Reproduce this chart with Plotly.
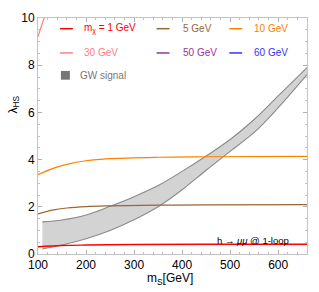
import plotly.graph_objects as go

# ---- data ----
ms_1 = [100, 150, 200, 300, 450, 660]
lam_1 = [0.31, 0.36, 0.38, 0.40, 0.41, 0.41]

ms_5 = [100, 130, 160, 200, 250, 350, 450, 660]
lam_5 = [1.70, 1.86, 1.95, 2.01, 2.04, 2.07, 2.08, 2.09]

ms_10 = [100, 130, 160, 200, 250, 350, 450, 660]
lam_10 = [3.36, 3.62, 3.80, 3.95, 4.04, 4.10, 4.12, 4.14]

ms_30 = [100, 106, 113, 125, 160]
lam_30 = [9.2, 9.6, 10.0, 10.6, 11.4]

gw_x = [109, 150, 200, 250, 300, 350, 400, 450, 500, 550, 600, 660]
gw_upper = [1.36, 1.44, 1.65, 2.02, 2.43, 2.90, 3.50, 4.15, 4.85, 5.70, 6.70, 7.90]
gw_lower = [0.21, 0.38, 0.65, 1.00, 1.45, 2.00, 2.72, 3.55, 4.35, 5.15, 6.20, 7.60]

legend_labels = ["m<sub>χ</sub> = 1 GeV", "5 GeV", "10 GeV", "30 GeV", "50 GeV", "60 GeV"]
legend_colors = ["#ff0000", "#996633", "#ff8000", "#ff8080", "#993399", "#3333ff"]

x_ticks = [100, 200, 300, 400, 500, 600]
y_ticks = [0, 2, 4, 6, 8, 10]

FONT = "Liberation Sans, Arial, sans-serif"

fig = go.Figure()

# GW band fill
fig.add_trace(go.Scatter(
    x=gw_x + gw_x[::-1], y=gw_upper + gw_lower[::-1],
    fill="toself", fillcolor="#d3d3d3", line=dict(width=0),
    mode="lines", hoverinfo="skip", showlegend=False))
for yy in (gw_upper, gw_lower):
    fig.add_trace(go.Scatter(x=gw_x, y=yy, mode="lines",
                             line=dict(color="#8a8a8a", width=1.1, shape="spline"),
                             showlegend=False))

widths = [1.4, 1.2, 1.2, 1.2]
for (xs, ys, c), w in zip([(ms_1, lam_1, legend_colors[0]), (ms_5, lam_5, legend_colors[1]),
                           (ms_10, lam_10, legend_colors[2]), (ms_30, lam_30, legend_colors[3])],
                          widths):
    fig.add_trace(go.Scatter(x=xs, y=ys, mode="lines",
                             line=dict(color=c, width=w, shape="spline"),
                             showlegend=False))

# legend (3 columns x 2 rows) drawn in paper coordinates
W, H = 319, 292
L, R, T, B = 38, 11, 11, 38
pw, ph = W - L - R, H - T - B

def px(xp):
    return (xp - L) / pw

def py(yp):
    return 1 - (yp - T) / ph

cols = [(60, 82), (157, 182), (230, 253)]
rows = [22, 47]
shapes = []
annotations = []
for i, (lab, col) in enumerate(zip(legend_labels, legend_colors)):
    r, c = divmod(i, 3)
    x0, xt = cols[c]
    yy = rows[r]
    shapes.append(dict(type="line", xref="paper", yref="paper",
                       x0=px(x0), x1=px(x0 + 13), y0=py(yy), y1=py(yy),
                       line=dict(color=col, width=1.5)))
    annotations.append(dict(xref="paper", yref="paper", x=px(xt), y=py(yy),
                            text=lab, showarrow=False, xanchor="left", yanchor="middle",
                            font=dict(family=FONT, size=10, color=col)))
shapes.append(dict(type="rect", xref="paper", yref="paper",
                   x0=px(61), x1=px(70), y0=py(74.5), y1=py(65.5),
                   fillcolor="#777777", line=dict(width=0)))
annotations.append(dict(xref="paper", yref="paper", x=px(78), y=py(70),
                        text="GW signal", showarrow=False, xanchor="left", yanchor="middle",
                        font=dict(family=FONT, size=10, color="#777777")))

annotations.append(dict(xref="x", yref="y", x=548, y=0.41, text="h → <i>μμ</i> @ 1-loop",
                        showarrow=False, xanchor="center", yanchor="bottom", yshift=-4,
                        font=dict(family=FONT, size=9.5, color="black")))
annotations.append(dict(xref="paper", yref="paper", x=px(14), y=py(100),
                        text="λ<sub>HS</sub>", textangle=-90, showarrow=False,
                        xanchor="center", yanchor="middle",
                        font=dict(family=FONT, size=12, color="black")))
annotations.append(dict(xref="paper", yref="paper", x=px(170), y=py(280),
                        text="m<sub>S</sub>[GeV]", showarrow=False,
                        xanchor="center", yanchor="middle",
                        font=dict(family=FONT, size=12, color="black")))

axis_common = dict(showgrid=False, zeroline=False, showline=True, linecolor="#c4c4c4",
                   linewidth=1, mirror="ticks", ticks="inside", ticklen=4, tickwidth=1,
                   tickcolor="#b0b0b0", tickfont=dict(family=FONT, size=12, color="black"))

fig.update_xaxes(range=[100, 660], tickvals=x_ticks, **axis_common,
                 minor=dict(dtick=20, tick0=100, ticks="inside", ticklen=2, tickcolor="#c0c0c0"))
fig.update_yaxes(range=[0, 10], tickvals=y_ticks, **axis_common,
                 minor=dict(dtick=0.5, tick0=0, ticks="inside", ticklen=2, tickcolor="#c0c0c0"))

fig.update_layout(width=W, height=H, margin=dict(l=L, r=R, t=T, b=B, pad=0),
                  plot_bgcolor="white", paper_bgcolor="white", showlegend=False,
                  shapes=shapes, annotations=annotations)

fig.write_html("out.html", config={"displayModeBar": False},
               post_script="document.body.style.margin='0';document.body.style.overflow='hidden';")
